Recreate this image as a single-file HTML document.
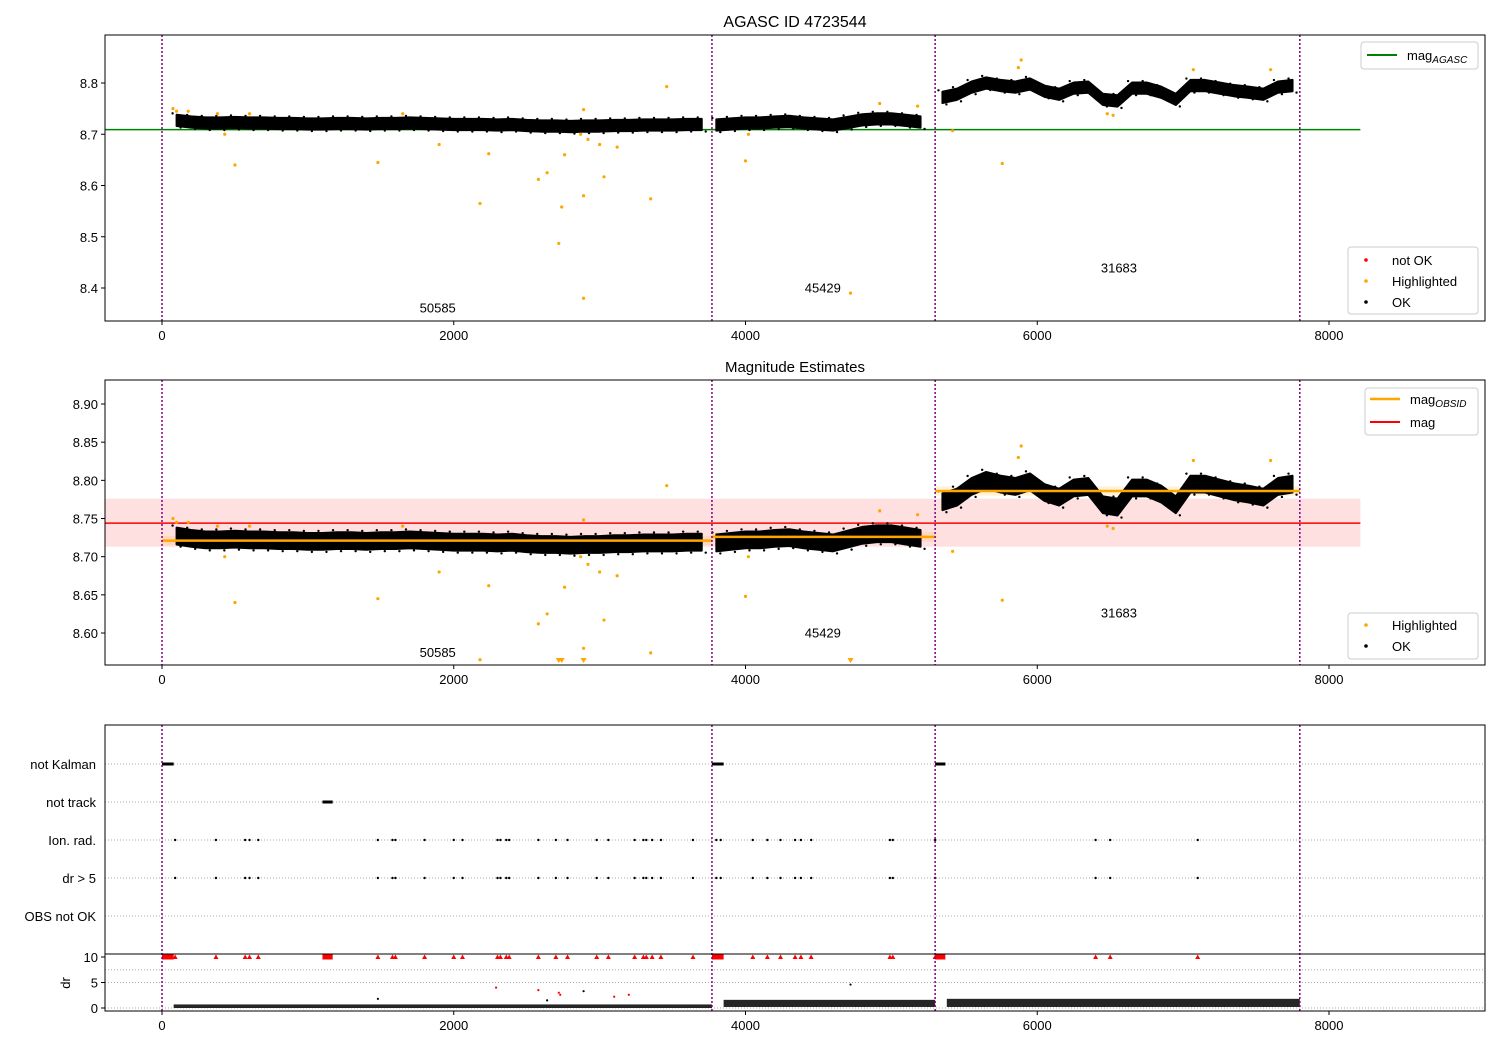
<!DOCTYPE html>
<html><head><meta charset="utf-8"><style>
body{margin:0;background:#fff}
svg text{font-family:"Liberation Sans","DejaVu Sans",sans-serif;font-size:13px;fill:#000}
</style></head><body>
<svg id="c" width="1500" height="1050" xmlns="http://www.w3.org/2000/svg"></svg>
<script>
// ---- data ----
const seg1X = [100,200,300,400,500,600,700,800,900,1000,1100,1200,1300,1400,1500,1600,1700,1800,1900,2000,2100,2200,2300,2400,2500,2600,2700,2800,2900,3000,3100,3200,3300,3400,3500,3600,3700];
const seg1Mag = [8.727,8.724,8.722,8.722,8.723,8.722,8.722,8.721,8.721,8.720,8.720,8.721,8.721,8.720,8.721,8.721,8.722,8.721,8.720,8.719,8.719,8.719,8.718,8.719,8.717,8.716,8.716,8.715,8.716,8.716,8.717,8.717,8.718,8.718,8.718,8.719,8.719];
const seg2X = [3800,3900,4000,4100,4200,4300,4400,4500,4600,4700,4800,4900,5000,5100,5200];
const seg2Mag = [8.718,8.720,8.722,8.722,8.724,8.725,8.722,8.720,8.718,8.723,8.728,8.730,8.730,8.727,8.724];
const seg3X = [5350,5450,5550,5650,5750,5850,5950,6050,6150,6250,6350,6450,6550,6650,6750,6850,6950,7050,7150,7250,7350,7450,7550,7650,7750];
const seg3Mag = [8.772,8.778,8.792,8.800,8.795,8.792,8.798,8.784,8.778,8.790,8.792,8.768,8.765,8.790,8.790,8.782,8.768,8.795,8.795,8.790,8.785,8.782,8.778,8.792,8.795];
const hiX = [75,100,180,380,430,500,600,1480,1650,1900,2180,2240,2580,2640,2720,2740,2760,2870,2890,2890,2890,2920,3000,3030,3120,3350,3460,4000,4020,4720,4920,5180,5420,5760,5870,5890,6480,6520,7070,7600];
const hiMag = [8.750,8.745,8.745,8.740,8.700,8.640,8.740,8.645,8.740,8.680,8.565,8.662,8.612,8.625,8.487,8.558,8.660,8.700,8.748,8.580,8.380,8.690,8.680,8.617,8.675,8.574,8.793,8.648,8.700,8.390,8.760,8.755,8.707,8.643,8.830,8.845,8.740,8.737,8.826,8.826];
const obsids = ["50585","45429","31683"];
const obsStart = [0,3770,5300];
const obsEnd = [3770,5300,7800];
const obsMag = [8.721,8.726,8.786];
const obsLabelMag1 = [8.362,8.401,8.440];
const obsLabelMag2 = [8.575,8.601,8.627];
const obsLabelX = [1890,4530,6560];
const agascMag = 8.709;
const magMean = 8.744;
const magLow = 8.713, magHigh = 8.776;
const flagNames = ["not Kalman","not track","Ion. rad.","dr > 5","OBS not OK"];
const notKalmanStart = [0,3770,5300];
const notKalmanEnd = [80,3850,5370];
const notTrackStart = [1100];
const notTrackEnd = [1170];
const ionX = [90,370,570,600,660,1480,1580,1600,1800,2000,2060,2300,2320,2360,2380,2580,2700,2780,2980,3060,3240,3300,3320,3360,3420,3640,3800,3830,4050,4150,4240,4340,4380,4450,4990,5010,5300,6400,6500,7100];
const drOutX = [1480,2290,2580,2640,2720,2730,2890,3100,3200,4720];
const drOutV = [1.8,4.0,3.5,1.5,3.0,2.6,3.3,2.2,2.6,4.6];
const drSegLevel = [0.35,0.9,1.0];
const drSegSpread = [0.35,0.7,0.8];
const xTicks = [0,2000,4000,6000,8000];
const y1Ticks = [8.4,8.5,8.6,8.7,8.8];
const y2Ticks = [8.60,8.65,8.70,8.75,8.80,8.85,8.90];
const drTicks = [0,5,10];

// ---- axes ----
const L=105,R=1485;
const x = v => 162 + v*1167/8000;
const y1 = v => 83 + (8.8-v)*512.5;
const y2 = v => 404 + (8.9-v)*763.4;
const yd = v => 1008 - v*5.1;
const flagY = i => 764 + i*38;
const svg = document.getElementById('c');
const NS='http://www.w3.org/2000/svg';
function el(tag, attrs, parent){const e=document.createElementNS(NS,tag);for(const k in attrs)e.setAttribute(k,attrs[k]);(parent||svg).appendChild(e);return e;}
function txt(s,xx,yy,anchor,parent){const t=el('text',{x:xx,y:yy,'text-anchor':anchor||'start'},parent);t.textContent=s;return t;}

function panel(top,bot,name){
  const g=el('g',{});
  
  
  const cp=el('clipPath',{id:'cp'+name});
  el('rect',{x:L,y:top,width:R-L,height:bot-top},cp);
  const inner=el('g',{'clip-path':'url(#cp'+name+')'},g);
  return [g,inner];
}
function frame(g,top,bot){
  el('rect',{x:L,y:top,width:R-L,height:bot-top,fill:'none',stroke:'#000','stroke-width':1},g);
  xTicks.forEach(t=>{el('line',{x1:x(t),x2:x(t),y1:bot,y2:bot+4,stroke:'#000'},g);txt(String(t),x(t),bot+19,'middle',g);});
}
function vlines(g,top,bot){
  obsStart.concat([obsEnd[2]]).forEach(v=>{const l=el('line',{x1:x(v),x2:x(v),y1:top,y2:bot,stroke:'#800080','stroke-width':1.5,'stroke-dasharray':'2,2'},g);
  
  });
}
function okBand(g,yf,hw){
  [[seg1X,seg1Mag],[seg2X,seg2Mag],[seg3X,seg3Mag]].forEach(([xs,ms])=>{
    let top='',bot='';
    xs.forEach((xv,i)=>{top+=(i?'L':'M')+x(xv)+','+yf(ms[i]+hw);});
    for(let i=xs.length-1;i>=0;i--){bot+='L'+x(xs[i])+','+yf(ms[i]-hw);}
    const p=el('path',{d:top+bot+'Z',fill:'#000',stroke:'#000','stroke-width':2,'stroke-linejoin':'round'},g);
    
    
    xs.forEach((xv,i)=>{
      el('circle',{cx:x(xv)-4,cy:yf(ms[i]+hw*1.25),r:1.2,fill:'#000'},g);
      el('circle',{cx:x(xv)+4,cy:yf(ms[i]-hw*1.25),r:1.2,fill:'#000'},g);
    });
  });
}
function highlights(g,yf,lo){
  hiX.forEach((xv,i)=>{
    if(hiMag[i]<lo){
      const px=x(xv),py=662;
      const p=el('path',{d:`M${px-3},${py-4}L${px+3},${py-4}L${px},${py+1}Z`,fill:'orange'},g);
      
      
    } else {
      const c=el('circle',{cx:x(xv),cy:yf(hiMag[i]),r:1.6,fill:'orange'},g);
      
      
    }
  });
}

const t1=txt('AGASC ID 4723544',795,27,'middle');t1.style.fontSize='16px';


// Panel 1
let [g1,i1]=panel(35,321,'panel-agasc');
el('line',{x1:L,x2:x(8215),y1:y1(agascMag),y2:y1(agascMag),stroke:'green','stroke-width':1.5},i1);
okBand(i1,y1,0.011);
highlights(i1,y1,0);
vlines(i1,35,321);
obsids.forEach((o,i)=>{const t=txt(o,x(obsLabelX[i]),y1(obsLabelMag1[i])+5,'middle',i1);});
frame(g1,35,321);
y1Ticks.forEach(t=>{el('line',{x1:L-4,x2:L,y1:y1(t),y2:y1(t),stroke:'#000'},g1);txt(t.toFixed(1),L-7,y1(t)+5,'end',g1);});

function legendBox(g,x0,y0,w,h,name){const r=el('rect',{x:x0,y:y0,width:w,height:h,fill:'#fff',stroke:'#ccc',rx:3},g);}
legendBox(g1,1361,42,117,27,'legend-agasc');
el('line',{x1:1367,x2:1397,y1:55,y2:55,stroke:'green','stroke-width':2},g1);
let lt=txt('mag',1407,60,'start',g1);let ts=el('tspan',{'font-style':'italic',dy:'3'},lt);ts.textContent='AGASC';ts.style.fontSize='10px';
legendBox(g1,1348,247,130,67,'legend-status');
[['not OK','red',260],['Highlighted','orange',281],['OK','#000',302]].forEach(([s,c,yy])=>{el('circle',{cx:1366,cy:yy,r:1.8,fill:c},g1);txt(s,1392,yy+5,'start',g1);});

// Panel 2
const t2=txt('Magnitude Estimates',795,372,'middle');t2.style.fontSize='15px';

let [g2,i2]=panel(380,665,'panel-estimates');
el('rect',{x:L,y:y2(magHigh),width:x(8215)-L,height:y2(magLow)-y2(magHigh),fill:'red','fill-opacity':0.12},i2);
el('line',{x1:L,x2:x(8215),y1:y2(magMean),y2:y2(magMean),stroke:'red','stroke-width':1.5},i2);
obsStart.forEach((s,i)=>{el('rect',{x:x(s),y:y2(obsMag[i]+0.006),width:x(obsEnd[i])-x(s),height:y2(obsMag[i]-0.006)-y2(obsMag[i]+0.006),fill:'orange','fill-opacity':0.15},i2);});
okBand(i2,y2,0.011);
obsStart.forEach((s,i)=>{const l=el('line',{x1:x(s),x2:x(obsEnd[i]),y1:y2(obsMag[i]),y2:y2(obsMag[i]),stroke:'orange','stroke-width':2.5},i2);});
highlights(i2,y2,8.56);
vlines(i2,380,665);
obsids.forEach((o,i)=>{txt(o,x(obsLabelX[i]),y2(obsLabelMag2[i])+5,'middle',i2);});
frame(g2,380,665);
y2Ticks.forEach(t=>{el('line',{x1:L-4,x2:L,y1:y2(t),y2:y2(t),stroke:'#000'},g2);txt(t.toFixed(2),L-7,y2(t)+5,'end',g2);});
legendBox(g2,1365,388,113,47,'legend-mag');
el('line',{x1:1370,x2:1400,y1:399,y2:399,stroke:'orange','stroke-width':2.5},g2);
lt=txt('mag',1410,404,'start',g2);ts=el('tspan',{'font-style':'italic',dy:'3'},lt);ts.textContent='OBSID';ts.style.fontSize='10px';
el('line',{x1:1370,x2:1400,y1:422,y2:422,stroke:'red','stroke-width':2},g2);
txt('mag',1410,427,'start',g2);
legendBox(g2,1348,613,130,46,'legend-status-2');
[['Highlighted','orange',625],['OK','#000',646]].forEach(([s,c,yy])=>{el('circle',{cx:1366,cy:yy,r:1.8,fill:c},g2);txt(s,1392,yy+5,'start',g2);});

// Panel 3
let [g3,i3]=panel(725,1011,'panel-flags');
flagNames.forEach((f,i)=>{el('line',{x1:L,x2:R,y1:flagY(i),y2:flagY(i),stroke:'#aaa','stroke-dasharray':'1,2'},i3);
  const t=txt(f,96,flagY(i)+5,'end',g3);});
[[notKalmanStart,notKalmanEnd,0],[notTrackStart,notTrackEnd,1]].forEach(([ss,es,k])=>{ss.forEach((s,i)=>{el('rect',{x:x(s),y:flagY(k)-1.5,width:x(es[i])-x(s),height:3,fill:'#000'},i3);
  el('rect',{x:x(s),y:yd(10)-2.5,width:x(es[i])-x(s),height:5,fill:'red'},i3);});});
ionX.forEach(v=>{[2,3].forEach(k=>el('circle',{cx:x(v),cy:flagY(k),r:1.2,fill:'#000'},i3));
  const p=el('path',{d:`M${x(v)-2.5},${yd(10)+2}L${x(v)+2.5},${yd(10)+2}L${x(v)},${yd(10)-2.5}Z`,fill:'red'},i3);
  });
[5,7.5,0].forEach(v=>el('line',{x1:L,x2:R,y1:yd(v),y2:yd(v),stroke:'#aaa','stroke-dasharray':'1,2'},i3));
obsStart.forEach((s,i)=>{const lv=drSegLevel[i],sp=drSegSpread[i];const r=el('rect',{x:x(s+80),y:yd(lv+sp),width:x(obsEnd[i])-x(s+80),height:yd(lv-sp)-yd(lv+sp),fill:'#000','fill-opacity':0.85},i3);
  });
drOutX.forEach((v,i)=>el('circle',{cx:x(v),cy:yd(drOutV[i]),r:1.1,fill:(i%3==0?'#000':'red')},i3));
vlines(i3,725,1011);
el('line',{x1:L,x2:R,y1:954,y2:954,stroke:'#000'},g3);
frame(g3,725,1011);
drTicks.forEach(t=>{el('line',{x1:L-4,x2:L,y1:yd(t),y2:yd(t),stroke:'#000'},g3);txt(String(t),L-7,yd(t)+5,'end',g3);});
const dl=txt('dr',70,983,'middle',g3);dl.setAttribute('transform','rotate(-90 70 983)');
</script>
</body></html>
